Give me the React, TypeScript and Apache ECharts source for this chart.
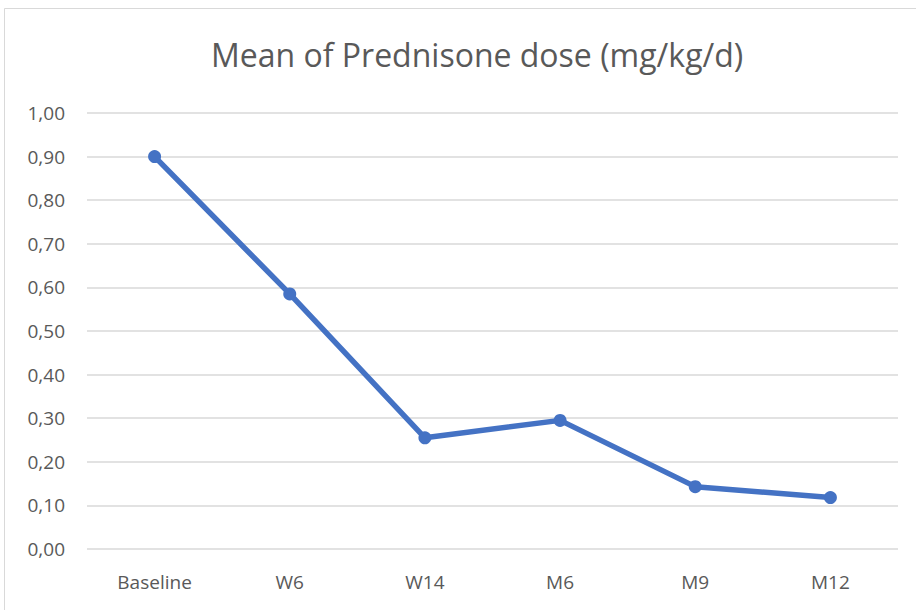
import React, { useEffect, useRef } from "react";
import * as echarts from "echarts";

const categories = ["Baseline", "W6", "W14", "M6", "M9", "M12"];
const meanDose = [0.9, 0.585, 0.255, 0.295, 0.143, 0.118];
const titleText = "Mean of Prednisone dose (mg/kg/d)";

const FONT = "'Liberation Sans Narrow', 'Open Sans', sans-serif";

export default function App() {
  const ref = useRef<HTMLDivElement>(null);
  useEffect(() => {
    if (!ref.current) return;
    const chart = echarts.init(ref.current, undefined, { renderer: "svg" });
    chart.setOption({
      animation: false,
      backgroundColor: "#ffffff",
      title: {
        text: titleText,
        left: 206,
        top: 33,
        textStyle: { fontFamily: FONT, fontSize: 32, fontWeight: "normal", color: "#595959" },
      },
      graphic: [
        {
          type: "rect",
          shape: { x: 4.5, y: 8.5, width: 1000, height: 700 },
          style: { fill: "none", stroke: "#d9d9d9", lineWidth: 1 },
          silent: true,
        },
      ],
      grid: { left: 87, right: 18, top: 113, bottom: 61 },
      xAxis: {
        type: "category",
        data: categories,
        boundaryGap: true,
        axisLine: { show: false },
        axisTick: { show: false },
        axisLabel: { fontFamily: FONT, fontSize: 19, color: "#595959", margin: 23 },
      },
      yAxis: {
        type: "value",
        min: 0,
        max: 1,
        interval: 0.1,
        axisLine: { show: false },
        axisTick: { show: false },
        splitLine: { lineStyle: { color: "#d9d9d9", width: 1.5 } },
        axisLabel: {
          fontFamily: FONT,
          fontSize: 19,
          color: "#595959",
          margin: 22,
          formatter: (v: number) => v.toFixed(2).replace(".", ","),
        },
      },
      series: [
        {
          type: "line",
          data: meanDose,
          symbol: "circle",
          symbolSize: 13,
          lineStyle: { color: "#4472c4", width: 5.5 },
          itemStyle: { color: "#4472c4" },
        },
      ],
    });
    return () => chart.dispose();
  }, []);
  return (
    <div
      ref={ref}
      style={{ position: "fixed", left: 0, top: 0, width: 916, height: 610 }}
    />
  );
}
